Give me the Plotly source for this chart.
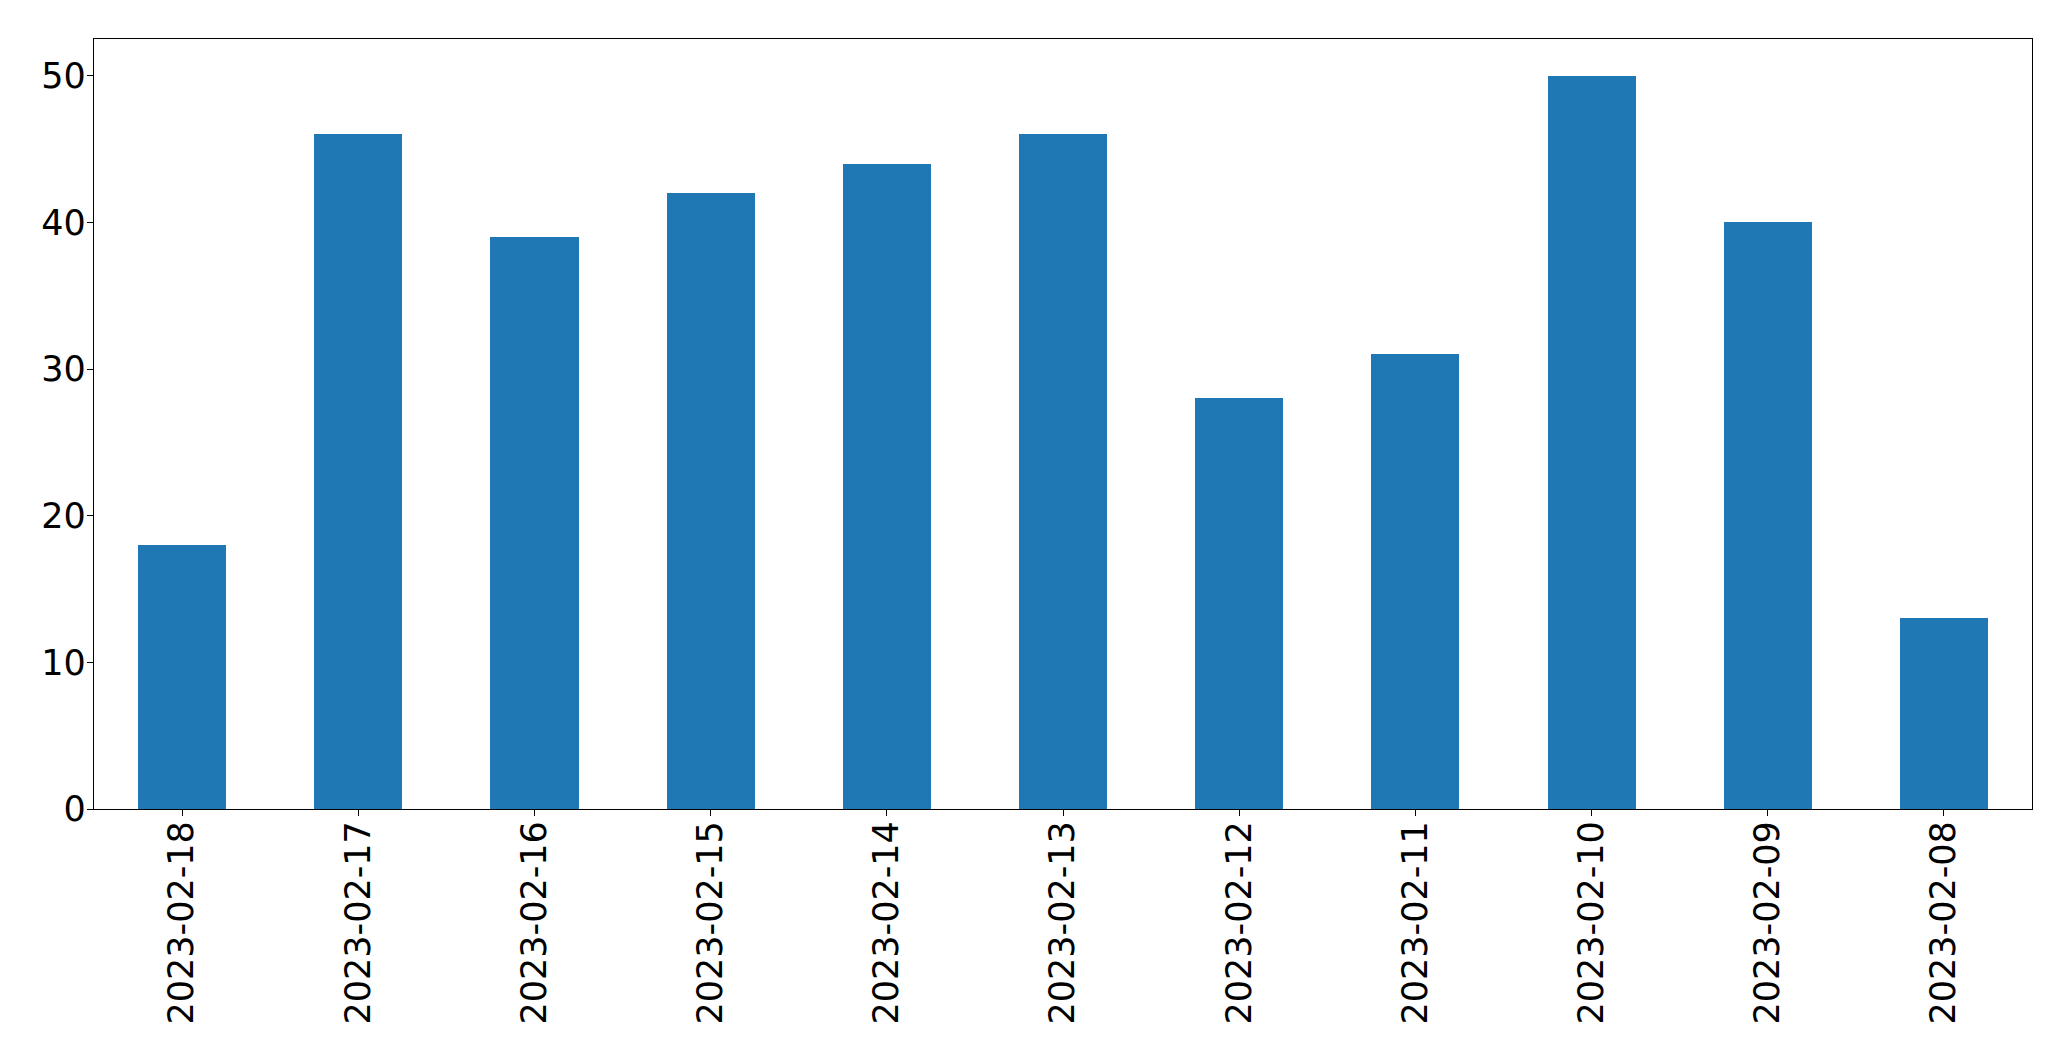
import plotly.graph_objects as go

dates = ["2023-02-18", "2023-02-17", "2023-02-16", "2023-02-15", "2023-02-14",
         "2023-02-13", "2023-02-12", "2023-02-11", "2023-02-10", "2023-02-09", "2023-02-08"]
counts = [18, 46, 39, 42, 44, 46, 28, 31, 50, 40, 13]
y_ticks = [0, 10, 20, 30, 40, 50]

fig = go.Figure(go.Bar(x=list(range(len(dates))), y=counts, width=0.5,
                       marker=dict(color="#1f77b4", line=dict(width=0))))

fig.update_layout(
    width=2071, height=1061,
    margin=dict(l=86, r=47, t=31, b=260, autoexpand=False),
    paper_bgcolor="white", plot_bgcolor="white",
    font=dict(family="DejaVu Sans", size=35, color="black"),
    showlegend=False,
    bargap=0,
)
fig.update_xaxes(range=[-0.5, len(dates) - 0.5], tickmode="array",
                 tickvals=list(range(len(dates))), ticktext=dates, tickangle=-90,
                 showline=True, linecolor="black", linewidth=1.3, mirror=True,
                 ticks="outside", ticklen=6, tickwidth=1.3, tickcolor="black",
                 ticklabelstandoff=-9,
                 showgrid=False, zeroline=False, automargin=False)
fig.update_yaxes(range=[0, 52.5], tickmode="array", tickvals=y_ticks,
                 showline=True, linecolor="black", linewidth=1.3, mirror=True,
                 ticks="outside", ticklen=6, tickwidth=1.3, tickcolor="black",
                 ticklabelstandoff=-6,
                 showgrid=False, zeroline=False, automargin=False)

fig.write_html("out.html")
